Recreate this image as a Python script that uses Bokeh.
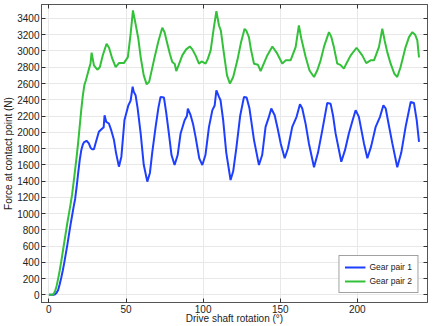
from bokeh.plotting import figure
from bokeh.models import LinearAxis, Legend, LegendItem, Range1d, FixedTicker
from bokeh.embed import file_html
from bokeh.resources import INLINE

# Gear pair 1 (blue)
x1 = [0, 3, 4, 5, 6, 7, 8, 9, 10, 11, 12, 13, 14, 15, 16, 17, 18, 19, 20, 21, 22, 22.7, 24.4, 25.9, 27, 28.1, 29.2,
      30.5, 32.4, 34.6, 35.5, 36.1, 37.2, 38.9, 40.5, 42.2, 43.5, 45.4, 47, 49, 51.5, 53, 54.3, 55, 56.2, 57.5, 59.5,
      61.5, 63.8, 65.5, 67, 69.2, 71, 72.4, 74.6, 76, 77.8, 79.5, 81.5, 83.5, 85.4, 88, 89.5, 90.1, 91.9, 93.5, 95.1,
      97.5, 99.5, 101.5, 103.8, 106, 107.5, 108.6, 110.3, 111.3, 113, 115, 117.8, 119.5, 121.5, 124, 126.5, 128.2,
      130, 133, 136.2, 138.3, 140.5, 142.5, 144.2, 146.4, 148.3, 150.3, 152.9, 155, 157.8, 160.6, 162.8, 164.3,
      166.5, 168.6, 171.9, 174.5, 177.3, 180.5, 182.7, 184.3, 185.9, 189.6, 192, 194.5, 197, 198.9, 201, 204.3,
      206.5, 209, 211.9, 214.7, 216.9, 218.4, 220.5, 222.7, 225.9, 228.5, 231.3, 234.6, 236.7, 238.5, 240]
y1 = [0, 0, 8, 25, 60, 130, 210, 300, 400, 510, 620, 740, 860, 970, 1080, 1180, 1330, 1500, 1660, 1780, 1850, 1875,
      1896, 1863, 1810, 1790, 1790, 1880, 2006, 2047, 2060, 2210, 2128, 2108, 2020, 1904, 1750, 1577, 1700, 2150, 2330,
      2390, 2560, 2500, 2456, 2300, 1986, 1600, 1393, 1500, 1750, 2067, 2300, 2435, 2427, 2250, 1986, 1720, 1597, 1720,
      1986, 2149, 2200, 2292, 2210, 2100, 1944, 1680, 1597, 1720, 2067, 2272, 2330, 2517, 2435, 2394, 2150, 1750,
      1413, 1520, 1800, 2200, 2435, 2427, 2300, 1904, 1597, 1720, 2067, 2180, 2292, 2210, 2050, 1863, 1680, 1800,
      2067, 2190, 2345, 2292, 2100, 1863, 1569, 1750, 2026, 2361, 2350, 2200, 1986, 1638, 1780, 1986, 2150, 2272,
      2190, 1863, 1680, 1830, 2067, 2190, 2333, 2292, 2080, 1863, 1569, 1750, 2067, 2373, 2361, 2150, 1883]

# Gear pair 2 (green)
x2 = [0, 2, 3, 4, 5, 6, 7, 8, 9, 10, 11, 12, 13, 14, 15, 16, 17, 18, 19, 20, 21, 22, 23, 24, 25, 26, 27, 27.7, 29.2,
      31.4, 33, 35, 37.4, 39, 41.1, 43.3, 45.4, 48.6, 51.2, 53, 54.5, 56.2, 58, 59.5, 61.5, 63.4, 65, 68.1, 71, 73.5,
      75, 76.8, 78.5, 80, 81.6, 82.6, 84, 86.5, 89, 91.4, 93, 95.1, 97.3, 99, 101.6, 103, 104.9, 107, 108.6, 110.3,
      111.5, 113.5, 115.5, 117.4, 119.5, 122.2, 124.5, 126.9, 128, 129.7, 131, 133, 135.6, 137.3, 139, 141.6, 144.9,
      148.1, 151.4, 153.5, 156.7, 160, 162.1, 163.7, 166.5, 169, 171.9, 174, 176.2, 178.5, 181.6, 183, 184.8, 187,
      189, 191.3, 193, 195.7, 199.5, 203.2, 205.8, 208.6, 210.8, 214, 216.2, 217.7, 219.5, 221.6, 224, 225.9, 228,
      231.3, 233.5, 235.7, 237.5, 238.9, 240]
y2 = [0, 0, 10, 45, 110, 200, 300, 410, 530, 650, 770, 890, 1000, 1110, 1230, 1380, 1540, 1700, 1880, 2080, 2280, 2450,
      2580, 2640, 2710, 2780, 2850, 2980, 2823, 2770, 2800, 2950, 3089, 3040, 2905, 2802, 2851, 2851, 2925, 3212, 3500,
      3334, 3150, 2925, 2700, 2590, 2620, 2885, 3120, 3285, 3230, 3089, 2960, 2864, 2840, 2753, 2820, 2946, 3020,
      3056, 3020, 2946, 2844, 2872, 2844, 2900, 3007, 3293, 3489, 3314, 3250, 2967, 2700, 2599, 2680, 2885, 3100,
      3273, 3250, 3171, 3020, 2844, 2830, 2753, 2830, 2946, 3056, 2967, 2844, 2885, 2885, 3048, 3314, 3150, 2925,
      2760, 2680, 2760, 2885, 3060, 3232, 3180, 3048, 2844, 2830, 2783, 2850, 2946, 3040, 2946, 2851, 2885, 2885,
      3048, 3273, 3130, 2980, 2844, 2720, 2680, 2800, 3048, 3170, 3232, 3200, 3130, 2920]

x_ticks = [0, 50, 100, 150, 200]
y_ticks = list(range(0, 3401, 200))

FONT = "Liberation Sans"
AX = "#555555"
TXT = "#222222"

p = figure(width=438, height=326, output_backend="svg", toolbar_location=None,
           x_range=Range1d(-4.8, 245.5), y_range=Range1d(-94, 3572),
           min_border_left=41, min_border_right=11, min_border_top=4, min_border_bottom=23)

p.outline_line_color = AX
p.outline_line_width = 1
p.background_fill_color = "white"
p.border_fill_color = "white"

for ax in (p.xaxis[0], p.yaxis[0]):
    ax.major_tick_in = 4
    ax.major_tick_out = 0
    ax.minor_tick_line_color = None
    ax.axis_line_color = AX
    ax.major_tick_line_color = "#333333"
    ax.major_label_text_font = FONT
    ax.major_label_text_font_size = "10px"
    ax.major_label_text_color = TXT
    ax.axis_label_text_font = FONT
    ax.axis_label_text_font_size = "10px"
    ax.axis_label_text_font_style = "normal"
    ax.axis_label_text_color = TXT

p.xaxis[0].ticker = FixedTicker(ticks=x_ticks)
p.yaxis[0].ticker = FixedTicker(ticks=y_ticks)
p.xaxis[0].axis_label = "Drive shaft rotation (°)"
p.yaxis[0].axis_label = "Force at contact point (N)"
p.xaxis[0].major_label_standoff = 2
p.yaxis[0].major_label_standoff = 2
p.xaxis[0].axis_label_standoff = -3
p.yaxis[0].axis_label_standoff = 0

p.xgrid.ticker = FixedTicker(ticks=x_ticks)
p.ygrid.ticker = FixedTicker(ticks=y_ticks)
p.grid.grid_line_color = "#e8e8e8"

top = LinearAxis(ticker=FixedTicker(ticks=x_ticks), major_label_text_font_size="0px",
                 major_label_text_color=None,
                 major_tick_in=4, major_tick_out=0, minor_tick_line_color=None,
                 axis_line_color=AX, major_tick_line_color="#333333", major_label_standoff=0)
right = LinearAxis(ticker=FixedTicker(ticks=y_ticks), major_label_text_font_size="0px",
                   major_label_text_color=None,
                   major_tick_in=4, major_tick_out=0, minor_tick_line_color=None,
                   axis_line_color=AX, major_tick_line_color="#333333", major_label_standoff=0)
p.add_layout(top, "above")
p.add_layout(right, "right")

r1 = p.line(x1, y1, line_color="#1f3fff", line_width=2)
r2 = p.line(x2, y2, line_color="#33c13a", line_width=2)

legend = Legend(items=[LegendItem(label="Gear pair 1", renderers=[r1]),
                       LegendItem(label="Gear pair 2", renderers=[r2])],
                location="bottom_right")
legend.label_text_font = FONT
legend.label_text_font_size = "8.5px"
legend.label_text_color = TXT
legend.border_line_color = "#444444"
legend.border_line_width = 1
legend.glyph_width = 21
legend.glyph_height = 12
legend.label_height = 12
legend.spacing = 2
legend.padding = 5
legend.margin = 9
legend.label_standoff = 4
p.add_layout(legend)

open("out.html", "w").write(file_html(p, INLINE))
